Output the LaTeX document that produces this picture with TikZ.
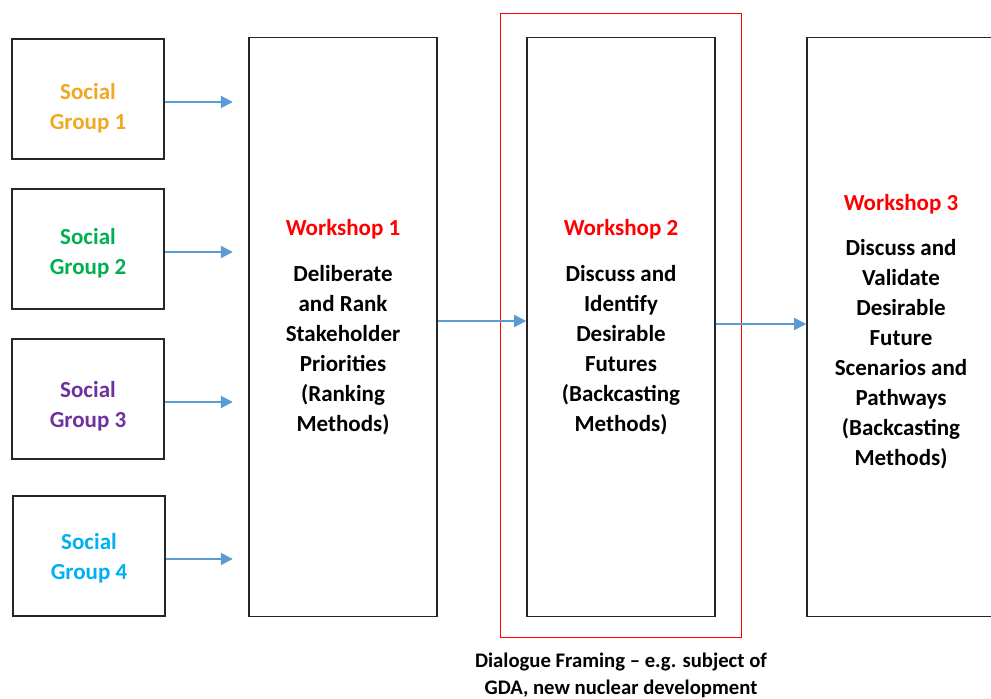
\documentclass[tikz,border=0pt]{standalone}
\usepackage{fontspec}
\setmainfont{Carlito}
\usepackage{tikz}
\usetikzlibrary{arrows.meta, positioning, fit}
\usepackage{xcolor}
\definecolor{groupgold}{RGB}{240,168,34}
\definecolor{groupgreen}{RGB}{0,176,80}
\definecolor{grouppurple}{RGB}{112,48,160}
\definecolor{groupcyan}{RGB}{0,176,240}
\definecolor{arrowblue}{RGB}{91,155,213}
\tikzstyle{group} = [rectangle, minimum width=152pt, minimum height=120pt, text centered, align=center, draw=black!85, line width=1.6pt, font=\bfseries\fontsize{23}{30}\selectfont]
\tikzstyle{stage} = [rectangle, minimum width=188pt, minimum height=579pt, text centered, align=center, draw=black!85, line width=1.6pt, font=\bfseries\fontsize{23}{30}\selectfont]
\tikzstyle{frame} = [rectangle, draw=red, line width=1.2pt, inner xsep=25.5pt, inner ysep=22pt]
\tikzstyle{arrow} = [line width=2pt, color=arrowblue, -{Triangle[length=12pt,width=12pt]}]

\begin{document}
\begin{tikzpicture}[x=1pt, y=1pt, node distance=150pt]
\useasboundingbox (0,0) rectangle (991,699);

% social groups, text sits a little low in each box
\node (sg1) [group, text=groupgold] at (88,600) {\rule{0pt}{35pt}Social\\Group 1};
\node (sg2) [group, below of=sg1, text=groupgreen] {\rule{0pt}{25pt}Social\\Group 2};
\node (sg3) [group, below of=sg2, text=grouppurple] {\rule{0pt}{31pt}Social\\Group 3};
\node (sg4) [group, below of=sg3, yshift=-7pt, xshift=1pt, text=groupcyan] {\rule{0pt}{21pt}Social\\Group 4};

\node (w1) [stage] at (343,372) {{\color{red}Workshop 1}\\[16pt]Deliberate\\and Rank\\Stakeholder\\Priorities\\(Ranking\\Methods)};
\node (w2) [stage, right of=w1, xshift=128pt] {{\color{red}Workshop 2}\\[16pt]Discuss and\\Identify\\Desirable\\Futures\\(Backcasting\\Methods)};
\node (w3) [stage, right of=w2, xshift=130pt] {\rule{0pt}{25pt}{\color{red}Workshop 3}\\[15pt]Discuss and\\Validate\\Desirable\\Future\\Scenarios and\\Pathways\\(Backcasting\\Methods)};

\node (framing) [frame, fit=(w2), yshift=1.5pt] {};
\node (note) [below=11pt of framing, align=center, font=\bfseries\fontsize{20.7}{27}\selectfont] {Dialogue Framing -- e.g. subject of\\GDA, new nuclear development};

\coordinate (in1) at ([xshift=68pt, yshift=-3pt]sg1.east);
\coordinate (in2) at ([xshift=68pt, yshift=-3pt]sg2.east);
\coordinate (in3) at ([xshift=68pt, yshift=-3pt]sg3.east);
\coordinate (in4) at ([xshift=67pt, yshift=-3pt]sg4.east);

\draw [arrow] ([yshift=-3pt]sg1.east) -- (in1);
\draw [arrow] ([yshift=-3pt]sg2.east) -- (in2);
\draw [arrow] ([yshift=-3pt]sg3.east) -- (in3);
\draw [arrow] ([yshift=-3pt]sg4.east) -- (in4);
\draw [arrow] ([yshift=6pt]w1.east) -- ([yshift=6pt]w2.west);
\draw [arrow] ([yshift=3pt]w2.east) -- ([yshift=3pt]w3.west);

\end{tikzpicture}
\end{document}
